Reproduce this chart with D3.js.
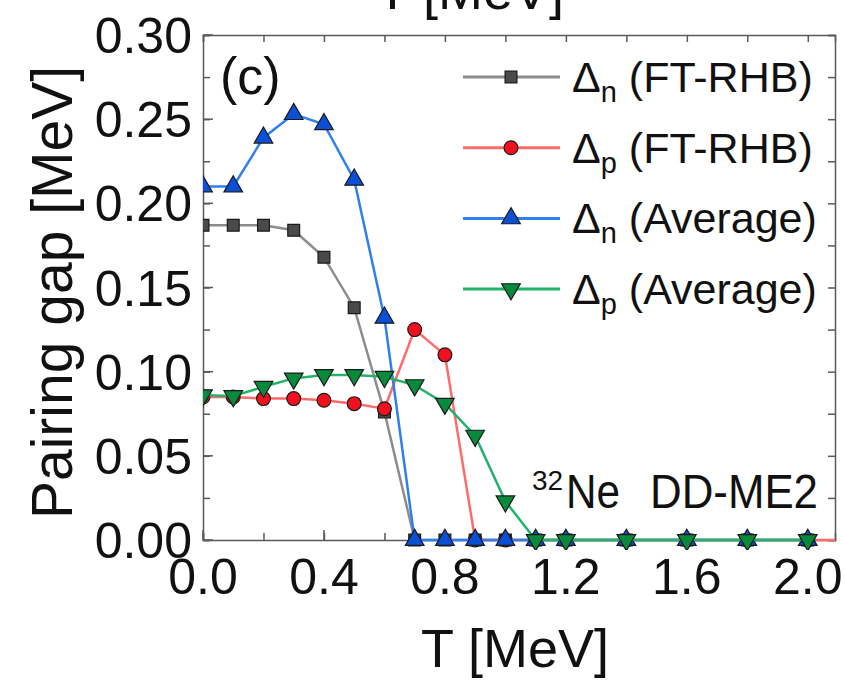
<!DOCTYPE html>
<html>
<head>
<meta charset="utf-8">
<script src="https://cdn.jsdelivr.net/npm/d3@7"></script>
<style>
  html, body { margin: 0; padding: 0; background: #fff; }
  svg { display: block; font-family: "Liberation Sans", Arial, sans-serif; }
</style>
</head>
<body>
<svg id="chart" width="845" height="683"></svg>
<script>
// ---- data ----
const T = [0.0, 0.1, 0.2, 0.3, 0.4, 0.5, 0.6, 0.7, 0.8, 0.9, 1.0, 1.1, 1.2, 1.4, 1.6, 1.8, 2.0];
const deltaN_FTRHB = [0.187, 0.187, 0.187, 0.184, 0.168, 0.138, 0.076, 0, 0, 0, 0, 0, 0, 0, 0, 0, 0];
const T_p = [0.0, 0.1, 0.2, 0.3, 0.4, 0.5, 0.6, 0.7, 0.8, 0.9, 1.0, 1.1, 1.2, 1.4, 1.6, 1.8, 2.0, 2.2];
const deltaP_FTRHB = [0.085, 0.085, 0.084, 0.084, 0.083, 0.081, 0.078, 0.125, 0.110, 0, 0, 0, 0, 0, 0, 0, 0, 0];
const deltaN_Avg = [0.210, 0.210, 0.239, 0.253, 0.247, 0.214, 0.132, 0, 0, 0, 0, 0, 0, 0, 0, 0, 0];
const deltaP_Avg = [0.086, 0.0855, 0.091, 0.096, 0.098, 0.098, 0.097, 0.092, 0.081, 0.062, 0.023, 0, 0, 0, 0, 0, 0];
const xTickLabels = [0.0, 0.4, 0.8, 1.2, 1.6, 2.0];
const yTickLabels = [0.00, 0.05, 0.10, 0.15, 0.20, 0.25, 0.30];
const seriesNames = ["n|(FT-RHB)", "p|(FT-RHB)", "n|(Average)", "p|(Average)"];

const series = [
  { name: seriesNames[0], x: T,   y: deltaN_FTRHB, line: "#8c8c8c", fill: "#4a4a4a", sym: "square" },
  { name: seriesNames[1], x: T_p, y: deltaP_FTRHB, line: "#ff6b6b", fill: "#f0101e", sym: "circle" },
  { name: seriesNames[2], x: T,   y: deltaN_Avg,   line: "#2f80ee", fill: "#0a4fd6", sym: "up" },
  { name: seriesNames[3], x: T,   y: deltaP_Avg,   line: "#23b26a", fill: "#078a3c", sym: "down" }
];

// ---- layout ----
const W = 845, H = 683;
const m = { left: 203, right: 10, top: 35, bottom: 143 };
const iw = W - m.left - m.right, ih = H - m.top - m.bottom;
const svg = d3.select("#chart");
const g = svg.append("g").attr("transform", `translate(${m.left},${m.top})`);

const x = d3.scaleLinear().domain([0, 2.09]).range([0, iw]);
const y = d3.scaleLinear().domain([0, 0.30]).range([ih, 0]);

const frameColor = "#5a5a5a";

svg.append("defs").append("clipPath").attr("id", "clip")
  .append("rect").attr("x", 0).attr("y", -10).attr("width", iw).attr("height", ih + 20);

const xMinor = d3.range(0, 2.01, 0.2);
const yMinor = d3.range(0, 0.301, 0.025);

const xAxisB = d3.axisBottom(x).tickValues(xMinor).tickSize(-7).tickFormat("");
const xAxisT = d3.axisTop(x).tickValues(xMinor).tickSize(-7).tickFormat("");
const yAxisL = d3.axisLeft(y).tickValues(yMinor).tickSize(-7).tickFormat("");
const yAxisR = d3.axisRight(y).tickValues(yMinor).tickSize(-7).tickFormat("");

function styleAxis(sel) {
  sel.selectAll("path").attr("stroke", frameColor).attr("stroke-width", 1.5);
  sel.selectAll("line").attr("stroke", frameColor).attr("stroke-width", 1.5);
}
g.append("g").attr("transform", `translate(0,${ih})`).call(xAxisB).call(styleAxis);
g.append("g").call(xAxisT).call(styleAxis);
g.append("g").call(yAxisL).call(styleAxis);
g.append("g").attr("transform", `translate(${iw},0)`).call(yAxisR).call(styleAxis);

g.append("g").selectAll("line").data(yTickLabels).join("line")
  .attr("x1", 0).attr("x2", 10).attr("y1", d => y(d)).attr("y2", d => y(d))
  .attr("stroke", frameColor).attr("stroke-width", 1.5);
g.append("g").selectAll("line").data(xTickLabels).join("line")
  .attr("x1", d => x(d)).attr("x2", d => x(d)).attr("y1", ih).attr("y2", ih - 10)
  .attr("stroke", frameColor).attr("stroke-width", 1.5);

// tick labels
g.append("g").selectAll("text").data(yTickLabels).join("text")
  .attr("x", -11).attr("y", d => y(d)).attr("dy", "0.36em")
  .attr("text-anchor", "end").attr("font-size", 50).attr("fill", "#111")
  .text(d => d3.format(".2f")(d));
g.append("g").selectAll("text").data(xTickLabels).join("text")
  .attr("x", d => x(d)).attr("y", ih + 54)
  .attr("text-anchor", "middle").attr("font-size", 50).attr("fill", "#111")
  .text(d => d3.format(".1f")(d));

// axis titles
svg.append("text").attr("x", 515).attr("y", 667)
  .attr("text-anchor", "middle").attr("font-size", 54).attr("fill", "#111").text("T [MeV]");
svg.append("text").attr("x", 470).attr("y", 9)
  .attr("text-anchor", "middle").attr("font-size", 54).attr("fill", "#111").text("T [MeV]");
svg.append("text")
  .attr("transform", `translate(72,${m.top + ih / 2 + 5}) rotate(-90)`)
  .attr("text-anchor", "middle").attr("font-size", 57).attr("fill", "#111").text("Pairing gap [MeV]");

// series
const plot = g.append("g").attr("clip-path", "url(#clip)");
const line = d3.line();

function symbolPath(sym) {
  if (sym === "square") return d3.symbol(d3.symbolSquare, 140)();
  if (sym === "circle") return d3.symbol(d3.symbolCircle, 150)();
  return d3.symbol(d3.symbolTriangle, 150)();
}

series.forEach(s => {
  const pts = s.x.map((t, i) => [x(t), y(s.y[i])]);
  plot.append("path").attr("d", line(pts))
    .attr("fill", "none").attr("stroke", s.line).attr("stroke-width", 2.5);
  plot.append("g").selectAll("path").data(pts).join("path")
    .attr("d", symbolPath(s.sym))
    .attr("transform", d => `translate(${d[0]},${d[1]})` + (s.sym === "down" ? " rotate(180)" : ""))
    .attr("fill", s.fill).attr("stroke", "#1a1a1a").attr("stroke-width", 1.2);
});

// legend
const lg = svg.append("g");
const legY0 = 77, legDy = 70.7;
series.forEach((s, i) => {
  const yy = legY0 + i * legDy;
  lg.append("line").attr("x1", 463).attr("x2", 560).attr("y1", yy).attr("y2", yy)
    .attr("stroke", s.line).attr("stroke-width", 3);
  lg.append("path").attr("d", symbolPath(s.sym))
    .attr("transform", `translate(511,${yy})` + (s.sym === "down" ? " rotate(180)" : ""))
    .attr("fill", s.fill).attr("stroke", "#1a1a1a").attr("stroke-width", 1.2);
  const [sub, rest] = s.name.split("|");
  const t = lg.append("text").attr("x", 572).attr("y", yy + 15).attr("font-size", 43).attr("fill", "#111");
  t.append("tspan").text("Δ");
  t.append("tspan").attr("font-size", 29).attr("dy", 10).text(sub);
  t.append("tspan").attr("dy", -10).text(" " + rest);
});

// annotations
svg.append("text").attr("x", 220).attr("y", 94).attr("font-size", 52).attr("fill", "#111").text("(c)");
svg.append("text").attr("x", 532).attr("y", 490).attr("font-size", 28).attr("fill", "#111").text("32");
svg.append("text").attr("x", 566).attr("y", 508).attr("font-size", 48)
  .attr("textLength", 54).attr("lengthAdjust", "spacingAndGlyphs").attr("fill", "#111").text("Ne");
svg.append("text").attr("x", 650).attr("y", 508).attr("font-size", 48)
  .attr("textLength", 168).attr("lengthAdjust", "spacingAndGlyphs").attr("fill", "#111").text("DD-ME2");
</script>
</body>
</html>
